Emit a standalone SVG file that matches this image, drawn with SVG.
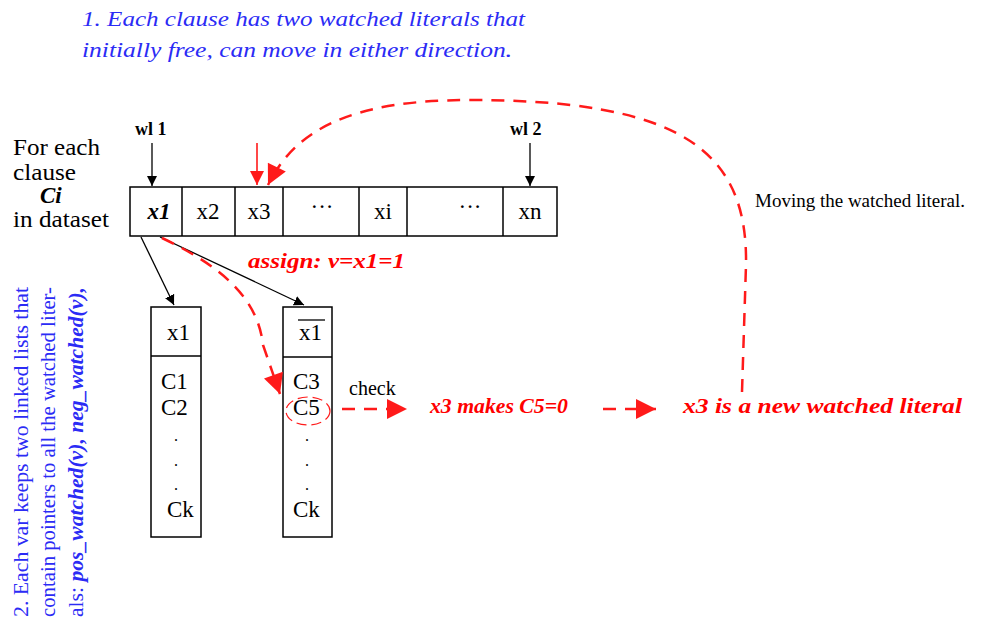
<svg xmlns="http://www.w3.org/2000/svg" width="995" height="623" viewBox="0 0 995 623">
  <style>
    .serif { font-family: "Liberation Serif", "DejaVu Serif", serif; }
    .note { fill: #2b2bf5; font-style: italic; font-size: 22px; }
    .side { fill: #2b2bf5; font-size: 20px; }
    .lbl { fill: #000; font-size: 23px; }
    .red { fill: #ff0000; font-weight: bold; font-style: italic; font-size: 21px; }
    .box { fill: #fff; stroke: #000; stroke-width: 1.5; }
    .blk { stroke: #000; stroke-width: 1.3; fill: none; }
    .rdash { stroke: #ff1a1a; stroke-width: 2.5; fill: none; stroke-dasharray: 13 9; }
    .rsolid { stroke: #ff1a1a; stroke-width: 1.6; fill: none; }
    .dot { font-size: 16px; }
  </style>
  <defs>
    <marker id="ab" viewBox="0 0 10 10" refX="10" refY="5" markerWidth="10" markerHeight="14" markerUnits="userSpaceOnUse" orient="auto">
      <path d="M0,0 L10,5 L0,10 z" fill="#000"/>
    </marker>
    <marker id="ar" viewBox="0 0 10 10" refX="10" refY="5" markerWidth="14" markerHeight="16" markerUnits="userSpaceOnUse" orient="auto">
      <path d="M0,0 L10,5 L0,10 z" fill="#ff1a1a"/>
    </marker>
    <marker id="arBig" viewBox="0 0 10 10" refX="10" refY="5" markerWidth="30" markerHeight="20" markerUnits="userSpaceOnUse" orient="auto">
      <path d="M0,0 L10,5 L0,10 z" fill="#ff1a1a"/>
    </marker>
  </defs>

  <!-- note 1 -->
  <g id="note1" class="serif note">
    <text x="82" y="26" textLength="443" lengthAdjust="spacingAndGlyphs">1. Each clause has two watched literals that</text>
    <text x="82" y="57" textLength="430" lengthAdjust="spacingAndGlyphs">initially free, can move in either direction.</text>
  </g>

  <!-- caption left of clause -->
  <g id="clause-caption" class="serif lbl">
    <text x="13" y="155" textLength="87" lengthAdjust="spacingAndGlyphs">For each</text>
    <text x="13" y="180" textLength="63" lengthAdjust="spacingAndGlyphs">clause</text>
    <text x="40" y="203" font-weight="bold" font-style="italic">Ci</text>
    <text x="13" y="227" textLength="96" lengthAdjust="spacingAndGlyphs">in dataset</text>
  </g>

  <!-- clause array -->
  <g id="clause" class="serif">
    <rect class="box" x="130" y="187" width="427" height="49"/>
    <g stroke="#000" stroke-width="1.5">
      <line x1="182" y1="187" x2="182" y2="236"/>
      <line x1="235" y1="187" x2="235" y2="236"/>
      <line x1="283" y1="187" x2="283" y2="236"/>
      <line x1="359" y1="187" x2="359" y2="236"/>
      <line x1="407" y1="187" x2="407" y2="236"/>
      <line x1="503" y1="187" x2="503" y2="236"/>
    </g>
    <g class="lbl" text-anchor="middle">
      <text x="159" y="219" font-weight="bold" font-style="italic">x1</text>
      <text x="208" y="219">x2</text>
      <text x="259" y="219">x3</text>
      <text x="322" y="214">···</text>
      <text x="383" y="219">xi</text>
      <text x="470" y="214">···</text>
      <text x="530" y="219">xn</text>
    </g>
  </g>

  <g id="wl1" class="serif">
    <text x="135" y="135" font-size="18" font-weight="bold">wl 1</text>
  </g>
  <g id="wl2" class="serif">
    <text x="510" y="135" font-size="18" font-weight="bold">wl 2</text>
  </g>

  <!-- positive watch list -->
  <g id="pos-list" class="serif">
    <rect class="box" x="151" y="307" width="50" height="230"/>
    <line x1="151" y1="356" x2="201" y2="356" stroke="#000" stroke-width="1.5"/>
    <g class="lbl" font-size="24">
      <text x="167" y="340">x1</text>
      <text x="161" y="389">C1</text>
      <text x="161" y="415">C2</text>
      <text class="dot" x="174" y="441">.</text>
      <text class="dot" x="174" y="466">.</text>
      <text class="dot" x="174" y="490">.</text>
      <text x="167" y="517">Ck</text>
    </g>
  </g>

  <!-- negative watch list -->
  <g id="neg-list" class="serif">
    <rect class="box" x="283" y="307" width="49" height="230"/>
    <line x1="283" y1="357" x2="332" y2="357" stroke="#000" stroke-width="1.5"/>
    <line x1="298" y1="320" x2="325" y2="320" stroke="#000" stroke-width="1.3"/>
    <g class="lbl" font-size="24">
      <text x="299" y="340">x1</text>
      <text x="293" y="389">C3</text>
      <text x="293" y="415">C5</text>
      <text class="dot" x="305" y="441">.</text>
      <text class="dot" x="305" y="466">.</text>
      <text class="dot" x="305" y="490">.</text>
      <text x="293" y="517">Ck</text>
    </g>
    <ellipse cx="308" cy="411" rx="22" ry="14" fill="none" stroke="#ff1a1a" stroke-width="1.2" stroke-dasharray="10 5"/>
  </g>

  <!-- status labels -->
  <g id="assign" class="serif red">
    <text x="248" y="268" textLength="157" lengthAdjust="spacingAndGlyphs">assign: v=x1=1</text>
  </g>
  <g id="check" class="serif">
    <text x="349" y="395" font-size="20">check</text>
  </g>
  <g id="makes" class="serif red">
    <text x="430" y="413" textLength="138" lengthAdjust="spacingAndGlyphs">x3 makes C5=0</text>
  </g>
  <g id="new-watch" class="serif red">
    <text x="683" y="413" textLength="279" lengthAdjust="spacingAndGlyphs">x3 is a new watched literal</text>
  </g>
  <g id="moving" class="serif">
    <text x="755" y="207" font-size="19" textLength="210" lengthAdjust="spacingAndGlyphs">Moving the watched literal.</text>
  </g>

  <!-- rotated note 2 -->
  <g id="note2" class="serif side">
    <text transform="translate(28,617) rotate(-90)" textLength="330" lengthAdjust="spacingAndGlyphs">2. Each var keeps two linked lists that</text>
    <text transform="translate(55,617) rotate(-90)" textLength="330" lengthAdjust="spacingAndGlyphs">contain pointers to all the watched liter-</text>
    <text transform="translate(83,617) rotate(-90)" textLength="330" lengthAdjust="spacingAndGlyphs">als: <tspan font-weight="bold" font-style="italic">pos_watched(v), neg_watched(v),</tspan></text>
  </g>

  <!-- connectors -->
  <g id="connectors">
    <line class="blk" x1="152" y1="143" x2="152" y2="186" marker-end="url(#ab)"/>
    <line class="blk" x1="530" y1="143" x2="530" y2="186" marker-end="url(#ab)"/>
    <line class="blk" x1="141" y1="237" x2="174" y2="305" marker-end="url(#ab)"/>
    <line class="blk" x1="160" y1="237" x2="304" y2="305" marker-end="url(#ab)"/>
    <line class="rsolid" x1="257" y1="143" x2="257" y2="185" marker-end="url(#ar)"/>
    <path class="rdash" d="M742,392 L746,265 C748,150 680,100 470,100 C350,100 295,130 268,185" marker-end="url(#arBig)"/>
    <path class="rdash" d="M162,238 C225,268 258,300 263,345 L280,394" marker-end="url(#arBig)"/>
    <path class="rdash" d="M342,409 L407,409" marker-end="url(#arBig)"/>
    <path class="rdash" d="M603,409 L656,409" marker-end="url(#arBig)"/>
  </g>
</svg>
